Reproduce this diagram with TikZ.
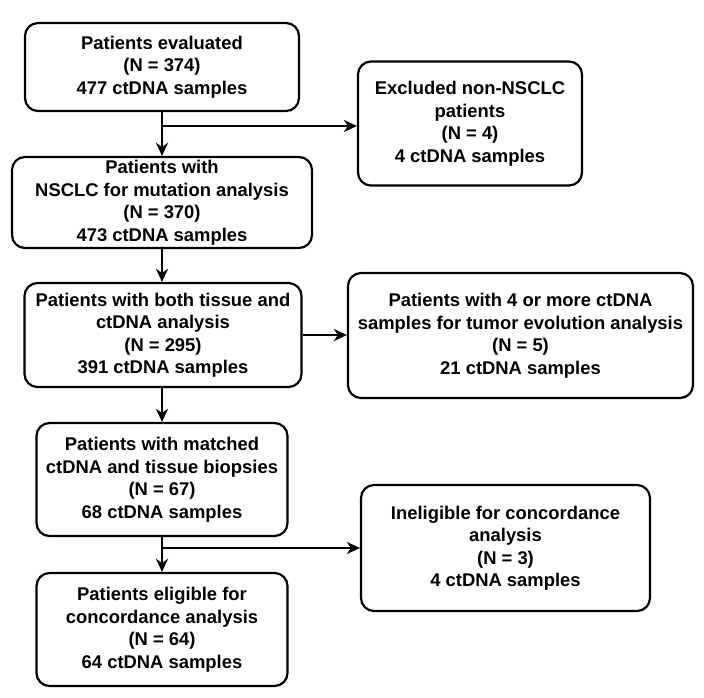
\documentclass[tikz,border=0pt]{standalone}
\usepackage{fontspec}
\setmainfont{Liberation Sans}
\usetikzlibrary{arrows.meta}
\begin{document}
\begin{tikzpicture}[x=1pt,y=-1pt,
  box/.style={draw, line width=2.2pt, rounded corners=13pt, align=center,
    font=\bfseries\fontsize{18.4}{22.5}\selectfont, inner sep=0pt},
  arr/.style={line width=2.2pt, -{Stealth[length=13pt,width=12pt,inset=4pt]}}]
\useasboundingbox (0,0) rectangle (704,697);
\node[box, minimum width=274pt, minimum height=88pt] (b1) at (162,67)
  {Patients evaluated\\(N = 374)\\477 ctDNA samples};
\node[box, minimum width=224pt, minimum height=124pt] (b2) at (470,123.5)
  {Excluded non-NSCLC\\patients\\(N = 4)\\4 ctDNA samples};
\node[box, minimum width=300pt, minimum height=91pt] (b3) at (162,202.5)
  {Patients with\\NSCLC for mutation analysis\\(N = 370)\\473 ctDNA samples};
\node[box, minimum width=277pt, minimum height=104pt] (b4) at (163,335)
  {Patients with both tissue and\\ctDNA analysis\\(N = 295)\\391 ctDNA samples};
\node[box, minimum width=345pt, minimum height=125pt] (b5) at (520.5,335.5)
  {Patients with 4 or more ctDNA\\samples for tumor evolution analysis\\(N = 5)\\21 ctDNA samples};
\node[box, minimum width=251pt, minimum height=113pt] (b6) at (162,479.5)
  {Patients with matched\\ctDNA and tissue biopsies\\(N = 67)\\68 ctDNA samples};
\node[box, minimum width=289pt, minimum height=126pt] (b7) at (505.5,548)
  {Ineligible for concordance\\analysis\\(N = 3)\\4 ctDNA samples};
\node[box, minimum width=251pt, minimum height=113pt] (b8) at (162,629.5)
  {Patients eligible for\\concordance analysis\\(N = 64)\\64 ctDNA samples};

\coordinate (j1) at (162,126);
\coordinate (j2) at (162,548);
\draw[arr] (b1.south) -- (b1.south |- b3.north);
\draw[arr] (j1) -- (j1 -| b2.west);
\draw[arr] (b3.south) -- (b3.south |- b4.north);
\draw[arr] (b4.east) -- (b4.east -| b5.west);
\draw[arr] (b6.south |- b4.south) -- (b6.north);
\draw[arr] (b6.south) -- (b8.north);
\draw[arr] (j2) -- (j2 -| b7.west);
\end{tikzpicture}
\end{document}
